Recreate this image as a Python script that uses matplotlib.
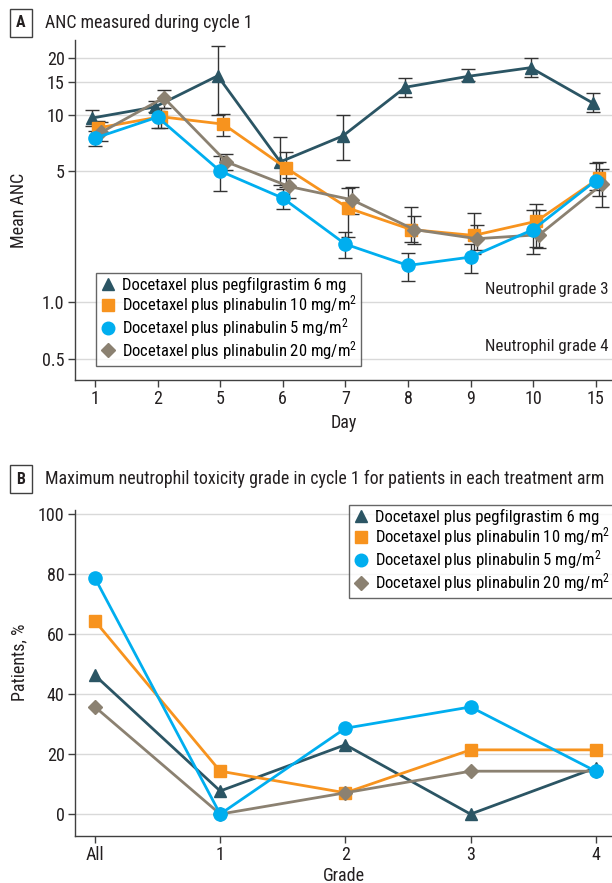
import numpy as np
import matplotlib
matplotlib.use("Agg")
import matplotlib.pyplot as plt
from matplotlib.lines import Line2D

plt.rcParams['font.family'] = ['Roboto Condensed', 'Lato', 'DejaVu Sans']
plt.rcParams['mathtext.fontset'] = 'custom'
plt.rcParams['mathtext.rm'] = 'Roboto Condensed'
plt.rcParams['mathtext.it'] = 'Roboto Condensed'

# ----- data -----
days = ["1", "2", "5", "6", "7", "8", "9", "10", "15"]
arms = ["Docetaxel plus pegfilgrastim 6 mg",
        "Docetaxel plus plinabulin 10 mg/m$^2$",
        "Docetaxel plus plinabulin 5 mg/m$^2$",
        "Docetaxel plus plinabulin 20 mg/m$^2$"]

peg_mean = [9.6, 11.0, 16.1, 5.6, 7.7, 14.0, 16.0, 17.8, 11.5]
peg_lo = [8.7, 10.3, 9.9, 4.2, 5.7, 12.4, 15.2, 15.9, 10.3]
peg_hi = [10.6, 11.8, 23.1, 7.6, 10.0, 15.6, 17.5, 20.0, 13.0]

p10_mean = [8.5, 9.75, 8.9, 5.2, 3.17, 2.44, 2.27, 2.70, 4.58]
p10_lo = [8.1, 8.5, 7.7, 4.1, 2.24, 2.1, 1.8, 1.97, 3.7]
p10_hi = [9.3, 10.9, 10.1, 6.3, 4.08, 3.2, 3.0, 3.35, 5.57]

p5_mean = [7.5, 9.7, 5.0, 3.59, 2.04, 1.57, 1.74, 2.44, 4.45]
p5_lo = [6.8, 8.5, 3.9, 3.15, 1.72, 1.30, 1.43, 1.8, 3.95]
p5_hi = [8.2, 10.5, 6.05, 4.0, 2.37, 1.83, 2.05, 3.1, 5.5]

p20_mean = [8.05, 12.3, 5.6, 4.14, 3.52, 2.44, 2.18, 2.29, 4.25]
p20_lo = [7.2, 10.9, 5.05, 3.6, 2.97, 2.05, 1.9, 1.95, 3.2]
p20_hi = [9.1, 13.6, 6.2, 4.6, 4.1, 2.87, 2.57, 3.1, 5.15]

grades = ["All", "1", "2", "3", "4"]
peg_pct = [46.2, 7.7, 23.1, 0.0, 15.4]
p10_pct = [64.3, 14.3, 7.1, 21.4, 21.4]
p5_pct = [78.6, 0.0, 28.6, 35.7, 14.3]
p20_pct = [35.7, 0.0, 7.1, 14.3, 14.3]

# ----- styles -----
teal, orange, blue, taupe = "#2b5564", "#f7931e", "#00aeef", "#8b8171"
styles = [(teal, "^", 9), (orange, "s", 8.5), (blue, "o", 9.5), (taupe, "D", 7.5)]
dodge = [-0.04, 0.05, 0.0, 0.1]
grid_c = "#d9d9d9"
text_c = "#231f20"

fig = plt.figure(figsize=(6.12, 8.83), dpi=100)


def style_axes(ax):
    for s in ["top", "right"]:
        ax.spines[s].set_visible(False)
    for s in ["left", "bottom"]:
        ax.spines[s].set_color("#404040")
        ax.spines[s].set_linewidth(1.0)
    ax.tick_params(direction="out", length=5, width=1, colors="#404040",
                   labelsize=13, labelcolor=text_c, pad=2.5)
    ax.set_axisbelow(True)


def panel_title(letter, text, y):
    fig.text(0.0343, y, letter, fontsize=11.5, fontweight="bold", color=text_c,
             ha="center", va="center",
             bbox=dict(boxstyle="square,pad=0.4", fc="white", ec="#404040", lw=1))
    fig.text(0.0735, y, text, fontsize=12.9, color=text_c, ha="left", va="center")


def legend_handles():
    return [Line2D([], [], ls="none", marker=m, color=c, markersize=ms * 0.95)
            for c, m, ms in styles]


def add_legend(ax, **kw):
    leg = ax.legend(legend_handles(), arms, borderaxespad=0, fontsize=12,
                    frameon=True, fancybox=False, edgecolor="#404040",
                    handletextpad=0.3, handlelength=1.0, borderpad=0.25,
                    labelspacing=0.0, **kw)
    leg.get_frame().set_linewidth(1)
    return leg


# ----- panel A -----
axA = fig.add_axes([0.1225, 0.5697, 0.8775, 0.385])
style_axes(axA)
x = np.arange(len(days))
series = [(peg_mean, peg_lo, peg_hi), (p10_mean, p10_lo, p10_hi),
          (p5_mean, p5_lo, p5_hi), (p20_mean, p20_lo, p20_hi)]
order = [0, 1, 3, 2]
for k in order:
    m, lo, hi = [np.array(a) for a in series[k]]
    c, mk, ms = styles[k]
    xx = x + dodge[k]
    axA.errorbar(xx, m, yerr=[m - lo, hi - m], fmt="none", ecolor="#333333",
                 elinewidth=1, capsize=5, capthick=1, zorder=2)
    axA.plot(xx, m, color=c, lw=2, marker=mk, markersize=ms, zorder=3)

axA.set_yscale("log")
axA.set_ylim(0.385, 25)
axA.set_xlim(-0.32, 8.26)
yt = [0.5, 1.0, 5, 10, 15, 20]
axA.set_yticks(yt)
axA.set_yticklabels(["0.5", "1.0", "5", "10", "15", "20"])
axA.yaxis.set_minor_locator(matplotlib.ticker.NullLocator())
axA.set_xticks(x)
axA.set_xticklabels(days)
axA.yaxis.grid(True, color=grid_c, lw=1)
axA.set_xlabel("Day", fontsize=13, color=text_c, labelpad=4)
axA.set_ylabel("Mean ANC", fontsize=13, color=text_c)
axA.yaxis.set_label_coords(-0.0875, 0.5)
axA.text(8.2, 1.06, "Neutrophil grade 3", ha="right", va="bottom",
         fontsize=12.2, color=text_c)
axA.text(8.2, 0.53, "Neutrophil grade 4", ha="right", va="bottom",
         fontsize=12.2, color=text_c)
add_legend(axA, loc="lower left", bbox_to_anchor=(0.039, 0.041))

panel_title("A", "ANC measured during cycle 1", 0.974)

# ----- panel B -----
axB = fig.add_axes([0.1225, 0.0532, 0.8775, 0.3692])
style_axes(axB)
xg = np.arange(len(grades))
pcts = [peg_pct, p10_pct, p5_pct, p20_pct]
for k in order:
    c, mk, ms = styles[k]
    axB.plot(xg, pcts[k], color=c, lw=2, marker=mk, markersize=ms, zorder=3)
axB.set_ylim(-7.3, 101.3)
axB.set_xlim(-0.16, 4.13)
axB.set_yticks([0, 20, 40, 60, 80, 100])
axB.set_xticks(xg)
axB.set_xticklabels(grades)
axB.yaxis.grid(True, color=grid_c, lw=1)
axB.set_xlabel("Grade", fontsize=13, color=text_c, labelpad=1.5)
axB.set_ylabel("Patients, %", fontsize=13, color=text_c)
axB.yaxis.set_label_coords(-0.0875, 0.534)
add_legend(axB, loc="upper left", bbox_to_anchor=(0.51, 1.015))

panel_title("B", "Maximum neutrophil toxicity grade in cycle 1 for patients in each treatment arm", 0.4575)

fig.savefig("out.png", dpi=100)
